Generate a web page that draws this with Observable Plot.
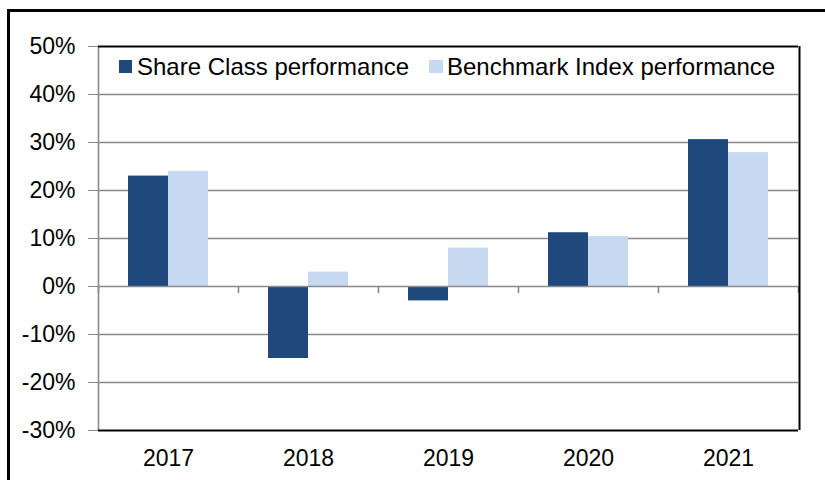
<!DOCTYPE html>
<html>
<head>
<meta charset="utf-8">
<script src="https://cdn.jsdelivr.net/npm/d3@7"></script>
<script src="https://cdn.jsdelivr.net/npm/@observablehq/plot@0.6"></script>
<style>
  html, body { margin: 0; padding: 0; background: #fff; overflow: hidden; }
  body { width: 825px; height: 480px; position: relative; font-family: "Liberation Sans", Arial, sans-serif; }
  #border { position: absolute; left: 7px; top: 9px; width: 900px; height: 600px; border-left: 3px solid #000; border-top: 3px solid #000; }
  #chart { position: absolute; left: 0; top: 0; }
  .lg { position: absolute; font-size: 24px; line-height: 24px; color: #000; white-space: nowrap; }
  .sw { position: absolute; width: 13px; height: 13px; }
</style>
</head>
<body>
<div id="border"></div>
<div id="chart"></div>
<div class="sw" id="sw1" style="left:119px; top:60px;"></div>
<div class="lg" id="lg1" style="left:137px; top:55px;"></div>
<div class="sw" id="sw2" style="left:429px; top:60px; width:14px;"></div>
<div class="lg" id="lg2" style="left:447px; top:55px;"></div>
<script>
const years = ["2017", "2018", "2019", "2020", "2021"];
const shareClass = [23.0, -15.0, -3.0, 11.2, 30.6];
const benchmark = [24.0, 3.0, 8.0, 10.4, 27.9];
const seriesNames = ["Share Class performance", "Benchmark Index performance"];
const seriesColors = ["#1F497D", "#C6D9F1"];
const yTicks = [-30, -20, -10, 0, 10, 20, 30, 40, 50];
const gridLines = [-20, -10, 10, 20, 30, 40];

const rowsA = years.map((y, i) => ({year: y, value: shareClass[i]}));
const rowsB = years.map((y, i) => ({year: y, value: benchmark[i]}));

const chart = Plot.plot({
  width: 825,
  height: 480,
  marginLeft: 98,
  marginRight: 27,
  marginTop: 46,
  marginBottom: 50,
  style: {fontFamily: "'Liberation Sans', Arial, sans-serif", fontSize: "23px", background: "transparent", color: "#000"},
  x: {domain: years, padding: 0, axis: null},
  y: {domain: [-30, 50], axis: null},
  marks: [
    Plot.ruleY(gridLines, {stroke: "#8a8a8a", strokeWidth: 1.6}),
    Plot.barY(rowsA, {x: "year", y: "value", fill: seriesColors[0], insetLeft: 30, insetRight: 70}),
    Plot.barY(rowsB, {x: "year", y: "value", fill: seriesColors[1], insetLeft: 70, insetRight: 30}),
    Plot.ruleY([0], {stroke: "#8a8a8a", strokeWidth: 1.6}),
    Plot.ruleX(years, {x: d => d, y1: 0, y2: 0, dx: -70, insetBottom: -7, stroke: "#8a8a8a", strokeWidth: 1.6}),
    Plot.ruleX([years[years.length - 1]], {x: d => d, y1: 0, y2: 0, dx: 70, insetBottom: -7, stroke: "#8a8a8a", strokeWidth: 1.6}),
    Plot.ruleX([years[0]], {x: d => d, dx: -70, stroke: "#8a8a8a", strokeWidth: 1.6}),
    Plot.ruleY([50], {stroke: "#000", strokeWidth: 2}),
    Plot.ruleY([-30], {stroke: "#000", strokeWidth: 2}),
    Plot.ruleX([years[years.length - 1]], {x: d => d, dx: 71, stroke: "#000", strokeWidth: 2}),
    Plot.axisY({ticks: yTicks, tickSize: 10, tickPadding: 13, stroke: "#8a8a8a", fill: "#000", fontSize: 23, tickFormat: d => d + "%", label: null}),
    Plot.axisX({tickSize: 0, tickPadding: 19, fill: "#000", fontSize: 23, label: null})
  ]
});
document.getElementById("chart").appendChild(chart);
document.getElementById("sw1").style.background = seriesColors[0];
document.getElementById("sw2").style.background = seriesColors[1];
document.getElementById("lg1").textContent = seriesNames[0];
document.getElementById("lg2").textContent = seriesNames[1];
</script>
</body>
</html>
